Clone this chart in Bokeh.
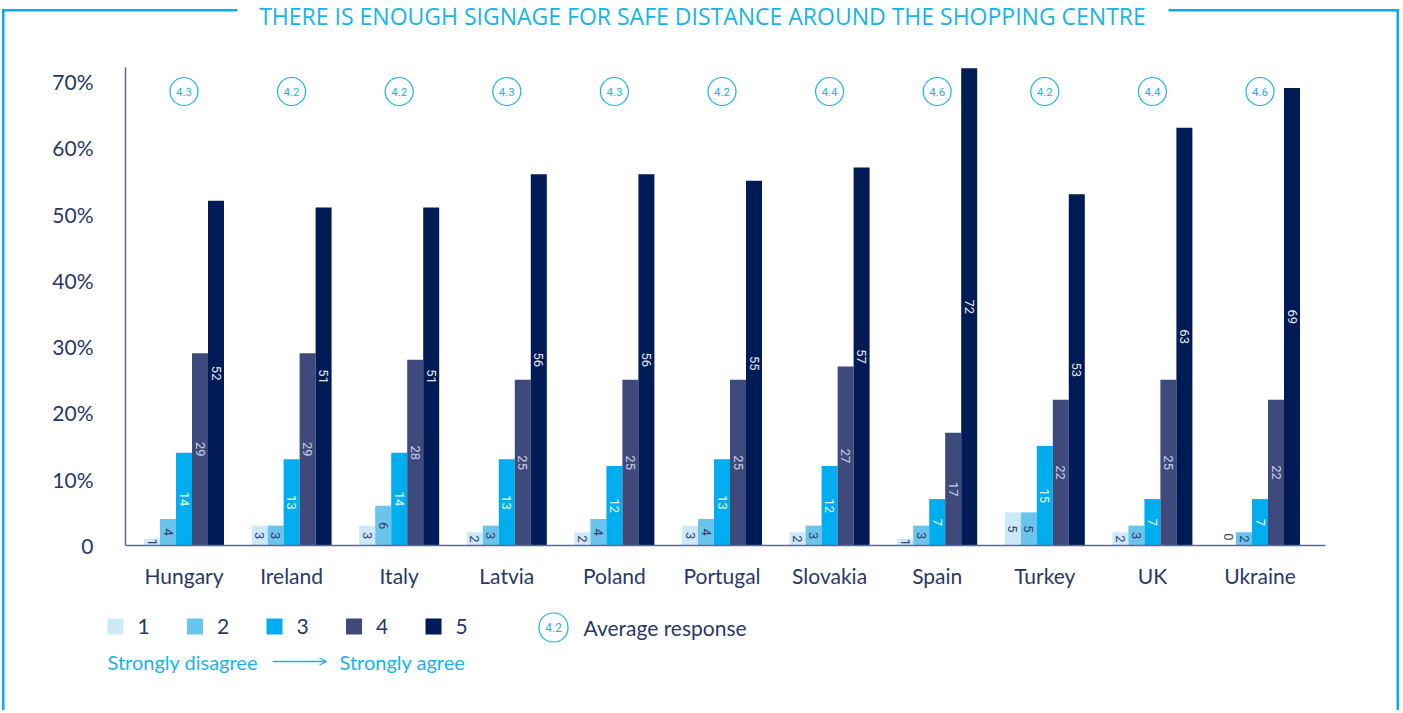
import numpy as np
from bokeh.plotting import figure
from bokeh.models import (ColumnDataSource, Range1d, FixedTicker, Label,
                          BoxAnnotation, Arrow, OpenHead)
from bokeh.core.properties import value
from bokeh.embed import file_html
from bokeh.resources import INLINE

# ---------------- data ----------------
countries = ["Hungary", "Ireland", "Italy", "Latvia", "Poland", "Portugal",
             "Slovakia", "Spain", "Turkey", "UK", "Ukraine"]
resp_1 = [1, 3, 3, 2, 2, 3, 2, 1, 5, 2, 0]
resp_2 = [4, 3, 6, 3, 4, 4, 3, 3, 5, 3, 2]
resp_3 = [14, 13, 14, 13, 12, 13, 12, 7, 15, 7, 7]
resp_4 = [29, 29, 28, 25, 25, 25, 27, 17, 22, 25, 22]
resp_5 = [52, 51, 51, 56, 56, 55, 57, 72, 53, 63, 69]
averages = [4.3, 4.2, 4.2, 4.3, 4.3, 4.2, 4.4, 4.6, 4.2, 4.4, 4.6]
series_names = ["1", "2", "3", "4", "5"]
y_ticks = [0, 10, 20, 30, 40, 50, 60, 70]
y_tick_labels = ["0", "10%", "20%", "30%", "40%", "50%", "60%", "70%"]
title_text = "THERE IS ENOUGH SIGNAGE FOR SAFE DISTANCE AROUND THE SHOPPING CENTRE"
scale_low = "Strongly disagree"
scale_high = "Strongly agree"
avg_legend_value = "4.2"
avg_legend_text = "Average response"

# ---------------- styles / geometry ----------------
bar_colors = ["#cde9f8", "#6ac4ec", "#00adee", "#3e4a7b", "#001b55"]
lbl_colors = ["#33406f", "#33406f", "#e6f7fd", "#c9cee2", "#e4e7f0"]
NAVY = "#2a3767"
CYAN = "#18b3ea"
AXIS = "#5d6a92"

W, H = 1400, 710
PX_X = 107.6          # pixels per category
X0 = 183.5            # pixel x of first category centre
PX_Y = 478 / 72.1     # pixels per percentage point
Y0 = 545              # pixel y of zero line
AX_L, AX_R, AX_T = 125, 1325, 67  # axis extents in pixels

x_lo, x_hi = -X0 / PX_X, (W - X0) / PX_X
y_lo, y_hi = -(H - Y0) / PX_Y, Y0 / PX_Y

p = figure(width=W, height=H, x_range=Range1d(x_lo, x_hi),
           y_range=Range1d(y_lo, y_hi), output_backend="svg",
           toolbar_location=None, min_border=0)
p.outline_line_color = None
p.grid.visible = False
p.background_fill_color = "white"
p.border_fill_color = "white"

idx = np.arange(len(countries))
bw = 16 / PX_X
series = [resp_1, resp_2, resp_3, resp_4, resp_5]
for k, vals in enumerate(series):
    v = np.array(vals, dtype=float)
    src = ColumnDataSource(dict(
        x=idx + (k - 2) * bw, top=v,
        ly=np.where(v > 0, v / 2.0, 1.3),
        txt=[str(int(a)) for a in v]))
    p.vbar(x="x", top="top", bottom=0, width=bw, source=src,
           fill_color=bar_colors[k], line_color=None)
    p.text(x="x", y="ly", text="txt", source=src, angle=-np.pi / 2,
           text_align="center", text_baseline="middle",
           text_font=value("Roboto"), text_font_size="13px",
           text_color=lbl_colors[k])

# average response circles
avg_y = (Y0 - 91) / PX_Y
asrc = ColumnDataSource(dict(x=idx, y=[avg_y] * len(idx),
                             t=[f"{a:.1f}" for a in averages]))
p.scatter(x="x", y="y", source=asrc, marker="circle", size=28,
          fill_color=None, line_color=CYAN, line_width=1.2)
p.text(x="x", y="y", text="t", source=asrc, text_align="center",
       text_baseline="middle", text_font=value("Roboto"),
       text_font_size="11.5px", text_color=CYAN)

# axes (fixed inside the full-canvas frame)
for ax in (p.xaxis[0], p.yaxis[0]):
    ax.major_tick_line_color = None
    ax.minor_tick_line_color = None
    ax.major_tick_out = 0
    ax.major_tick_in = 0
    ax.axis_line_color = AXIS
    ax.axis_line_width = 1.5
    ax.major_label_text_font = "Lato"
    ax.major_label_text_font_size = "21px"
    ax.major_label_text_color = NAVY
p.xaxis.ticker = FixedTicker(ticks=list(range(len(countries))))
p.xaxis.major_label_overrides = {i: c for i, c in enumerate(countries)}
p.xaxis.major_label_standoff = 17
p.xaxis.fixed_location = 0
p.xaxis.bounds = ((AX_L - X0) / PX_X, (AX_R - X0) / PX_X)
p.yaxis.ticker = FixedTicker(ticks=y_ticks)
p.yaxis.major_label_overrides = {t: l for t, l in zip(y_ticks, y_tick_labels)}
p.yaxis.major_label_standoff = 32
p.yaxis.fixed_location = (AX_L - X0) / PX_X
p.yaxis.bounds = (0, (Y0 - AX_T) / PX_Y)


# ---------- annotations in screen units (frame == canvas) ----------
def sx(X):
    return X


def sy(Y):
    return H - Y


def box(x0, x1, y0, y1, color, outline=None, radius=0):
    p.add_layout(BoxAnnotation(left=sx(x0), right=sx(x1), top=sy(y0), bottom=sy(y1),
                               left_units="screen", right_units="screen",
                               top_units="screen", bottom_units="screen",
                               fill_color=color, fill_alpha=1 if color else 0,
                               line_color=outline, line_alpha=1 if outline else 0,
                               line_width=1.2, border_radius=radius))


# border frame
BC = "#00aeef"
box(1.5, 4, 8.5, H, BC)
box(1396, 1398.5, 8.5, H, BC)
box(1.5, 237, 8.5, 11, BC)
box(1168, 1398.5, 8.5, 11, BC)

p.add_layout(Label(x=sx(702), y=sy(15), x_units="screen", y_units="screen",
                   text=title_text, text_align="center", text_baseline="middle",
                   text_font="Open Sans", text_font_size="23px", text_color=CYAN))

# legend squares
for k, name in enumerate(series_names):
    x0 = 107 + 79.5 * k
    box(x0, x0 + 16, 618, 634, bar_colors[k])
    p.add_layout(Label(x=sx(x0 + 30), y=sy(626), x_units="screen", y_units="screen",
                       text=name, text_align="left", text_baseline="middle",
                       text_font="Lato", text_font_size="21px", text_color=NAVY))

# average-response legend marker (circle + value)
box(538.5, 567.5, 612.5, 641.5, None, outline=CYAN, radius=14)
p.add_layout(Label(x=sx(553), y=sy(627), x_units="screen", y_units="screen",
                   text=avg_legend_value, text_align="center", text_baseline="middle",
                   text_font="Roboto", text_font_size="12px", text_color=CYAN))
p.add_layout(Label(x=sx(583), y=sy(627), x_units="screen", y_units="screen",
                   text=avg_legend_text, text_align="left", text_baseline="middle",
                   text_font="Lato", text_font_size="21px", text_color=NAVY))

p.add_layout(Label(x=sx(107), y=sy(661), x_units="screen", y_units="screen",
                   text=scale_low, text_align="left", text_baseline="middle",
                   text_font="Lato", text_font_size="20px", text_color=CYAN))
p.add_layout(Label(x=sx(339), y=sy(661), x_units="screen", y_units="screen",
                   text=scale_high, text_align="left", text_baseline="middle",
                   text_font="Lato", text_font_size="20px", text_color=CYAN))
p.add_layout(Arrow(x_start=sx(272), y_start=sy(661), x_end=sx(326), y_end=sy(661),
                   start_units="screen", end_units="screen",
                   line_color=CYAN, line_width=1.3,
                   end=OpenHead(size=7, line_color=CYAN, line_width=1.3)))

open("out.html", "w").write(file_html(p, INLINE))
